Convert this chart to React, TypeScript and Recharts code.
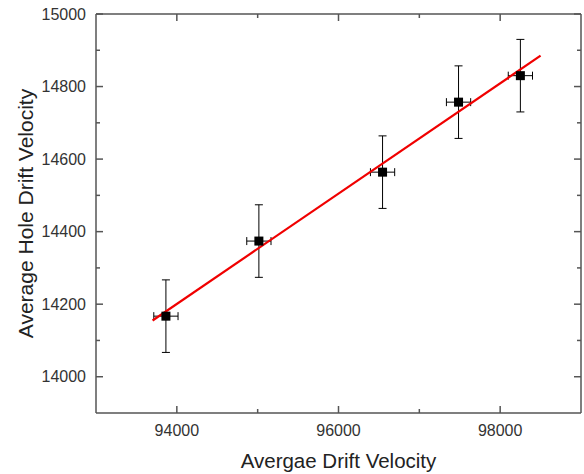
import React from "react";
import {
  ScatterChart,
  Scatter,
  XAxis,
  YAxis,
  ErrorBar,
} from "recharts";

// measured points
const electronVel = [93865, 95015, 96545, 97485, 98250];
const holeVel = [14167, 14374, 14564, 14757, 14830];
const electronErr = [150, 150, 150, 150, 150];
const holeErr = [100, 100, 100, 100, 100];

// linear fit end points
const fitX = [93700, 98500];
const fitY = [14155, 14885];

const xTicks = [94000, 95000, 96000, 97000, 98000];
const yTicks = [14000, 14100, 14200, 14300, 14400, 14500, 14600, 14700, 14800, 14900, 15000];

const points = electronVel.map((x, i) => ({
  x,
  y: holeVel[i],
  xErr: electronErr[i],
  yErr: holeErr[i],
}));
const fitLine = fitX.map((x, i) => ({ x, y: fitY[i] }));

const FONT = '"Liberation Sans", Arial, sans-serif';
const FRAME = "#555";

const BottomTick = (props: any) => {
  const { x, y, payload } = props;
  const major = payload.value % 2000 === 0;
  return (
    <g>
      <line x1={x} x2={x} y1={y} y2={y - (major ? 7 : 4)} stroke={FRAME} strokeWidth={1.5} />
      {major && (
        <text x={x} y={y + 23} textAnchor="middle" fontSize={16} fill="#333" fontFamily={FONT}>
          {payload.value}
        </text>
      )}
    </g>
  );
};

const TopTick = (props: any) => {
  const { x, y, payload } = props;
  const major = payload.value % 2000 === 0;
  return <line x1={x} x2={x} y1={y} y2={y + (major ? 7 : 4)} stroke={FRAME} strokeWidth={1.5} />;
};

const LeftTick = (props: any) => {
  const { x, y, payload } = props;
  const major = payload.value % 200 === 0;
  return (
    <g>
      <line x1={x} x2={x + (major ? 7 : 4)} y1={y} y2={y} stroke={FRAME} strokeWidth={1.5} />
      {major && (
        <text x={x - 10} y={y + 5.5} textAnchor="end" fontSize={16} fill="#333" fontFamily={FONT}>
          {payload.value}
        </text>
      )}
    </g>
  );
};

const RightTick = (props: any) => {
  const { x, y, payload } = props;
  const major = payload.value % 200 === 0;
  return <line x1={x} x2={x - (major ? 7 : 4)} y1={y} y2={y} stroke={FRAME} strokeWidth={1.5} />;
};

const Square = (props: any) => {
  const { cx, cy } = props;
  return <rect x={cx - 4.5} y={cy - 4.5} width={9} height={9} fill="#000" />;
};

const XTitle = (props: any) => {
  const vb = props.viewBox;
  return (
    <text x={vb.x + vb.width / 2} y={vb.y + 55} textAnchor="middle" fontSize={20.5} fill="#222" fontFamily={FONT}>
      Avergae Drift Velocity
    </text>
  );
};

const YTitle = (props: any) => {
  const vb = props.viewBox;
  const cx = vb.x + 7;
  const cy = vb.y + vb.height / 2;
  return (
    <text x={cx} y={cy} transform={`rotate(-90, ${cx}, ${cy})`} textAnchor="middle" fontSize={21} fill="#222" fontFamily={FONT}>
      Average Hole Drift Velocity
    </text>
  );
};

export default function App() {
  return (
    <div style={{ position: "absolute", left: 0, top: 0, width: 584, height: 474, background: "#fff" }}>
      <ScatterChart width={584} height={474} margin={{ top: 13, right: 2, bottom: 21, left: 26 }}>
        <XAxis
          type="number"
          dataKey="x"
          domain={[93000, 99000]}
          allowDataOverflow
          ticks={xTicks}
          interval={0}
          height={40}
          tickSize={0}
          tickMargin={0}
          tickLine={false}
          tick={BottomTick}
          axisLine={{ stroke: FRAME, strokeWidth: 1.5 }}
          label={<XTitle />}
        />
        <XAxis
          xAxisId="top"
          orientation="top"
          type="number"
          dataKey="x"
          domain={[93000, 99000]}
          allowDataOverflow
          ticks={xTicks}
          interval={0}
          height={1}
          tickSize={0}
          tickMargin={0}
          tickLine={false}
          tick={TopTick}
          axisLine={{ stroke: FRAME, strokeWidth: 1.5 }}
        />
        <YAxis
          type="number"
          dataKey="y"
          domain={[13900, 15000]}
          allowDataOverflow
          ticks={yTicks}
          interval={0}
          width={70}
          tickSize={0}
          tickMargin={0}
          tickLine={false}
          tick={LeftTick}
          axisLine={{ stroke: FRAME, strokeWidth: 1.5 }}
          label={<YTitle />}
        />
        <YAxis
          yAxisId="right"
          orientation="right"
          type="number"
          dataKey="y"
          domain={[13900, 15000]}
          allowDataOverflow
          ticks={yTicks}
          interval={0}
          width={1}
          tickSize={0}
          tickMargin={0}
          tickLine={false}
          tick={RightTick}
          axisLine={{ stroke: FRAME, strokeWidth: 1.5 }}
        />
        <Scatter
          data={fitLine}
          line={{ stroke: "#f00000", strokeWidth: 2.2 }}
          shape={() => <g />}
          isAnimationActive={false}
        />
        <Scatter data={points} shape={Square} isAnimationActive={false}>
          <ErrorBar dataKey="yErr" direction="y" width={4} stroke="#000" strokeWidth={1} />
          <ErrorBar dataKey="xErr" direction="x" width={4} stroke="#000" strokeWidth={1} />
        </Scatter>
      </ScatterChart>
    </div>
  );
}
